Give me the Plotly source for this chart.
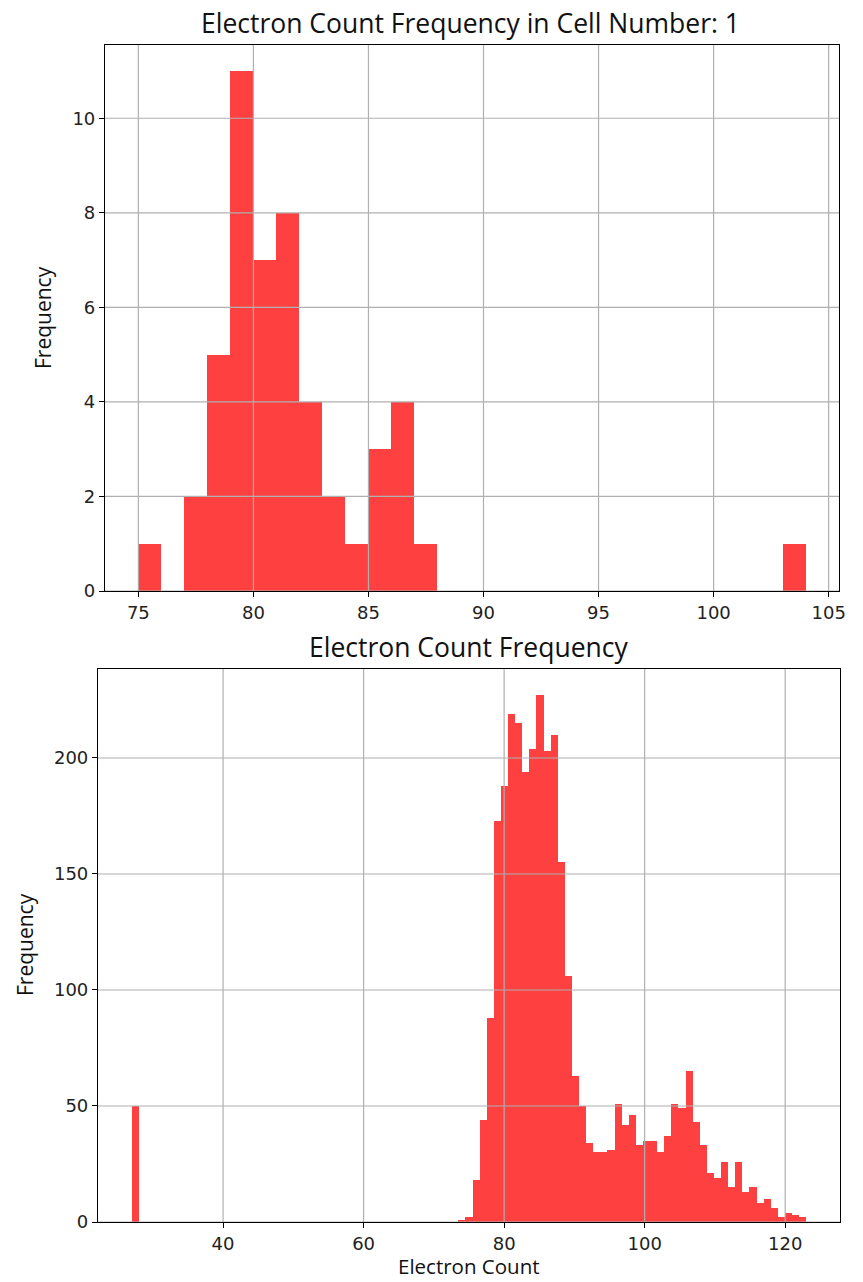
import plotly.graph_objects as go

# ---------------- data ----------------
# Top histogram: unit-width bins from 75 to 104
top_bin_start = 75
top_bin_width = 1
top_counts = [1, 0, 2, 5, 11, 7, 8, 4, 2, 1, 3, 4, 1,
              0, 0, 0, 0, 0, 0, 0, 0, 0, 0, 0, 0, 0, 0, 0, 1]

# Bottom histogram: 95 equal bins spanning 27..123
bot_range_min = 27
bot_range_max = 123
bot_counts = ([50] + [0] * 45 +
              [1, 2, 18, 44, 88, 173, 188, 219, 215, 194, 204, 227, 203, 210,
               155, 106, 63, 50, 34, 30, 30, 31, 51, 42, 46, 33, 35, 35, 30,
               37, 51, 49, 65, 43, 33, 21, 19, 26, 15, 26, 13, 15, 8, 10, 6,
               2, 4, 3, 2])

top_xticks = [75, 80, 85, 90, 95, 100, 105]
top_yticks = [0, 2, 4, 6, 8, 10]
bot_xticks = [40, 60, 80, 100, 120]
bot_yticks = [0, 50, 100, 150, 200]

top_title = "Electron Count Frequency in Cell Number: 1"
bot_title = "Electron Count Frequency"
y_label = "Frequency"
x_label = "Electron Count"

# ---------------- derived bins ----------------
top_centers = [top_bin_start + top_bin_width * (i + 0.5) for i in range(len(top_counts))]
bot_w = (bot_range_max - bot_range_min) / len(bot_counts)
bot_centers = [bot_range_min + bot_w * (i + 0.5) for i in range(len(bot_counts))]

W, H = 863, 1282
BAR = "rgba(255,0,0,0.75)"
GRID = "#b0b0b0"
TICKFONT = dict(family="DejaVu Sans", size=18, color="#222")
LABELFONT = "Open Sans"

def px(x):
    return x / W

def py(y):
    return 1 - y / H

fig = go.Figure()
fig.add_trace(go.Bar(x=top_centers, y=top_counts, width=top_bin_width,
                     marker=dict(color=BAR, line=dict(width=0)),
                     xaxis="x", yaxis="y", showlegend=False, hoverinfo="x+y"))
fig.add_trace(go.Bar(x=bot_centers, y=bot_counts, width=bot_w,
                     marker=dict(color=BAR, line=dict(width=0)),
                     xaxis="x2", yaxis="y2", showlegend=False, hoverinfo="x+y"))

tspan = len(top_counts) * top_bin_width
top_xr = [top_bin_start - 0.05 * tspan, top_bin_start + tspan + 0.05 * tspan]
top_yr = [0, max(top_counts) * 1.05]
bspan = bot_range_max - bot_range_min
bot_xr = [bot_range_min - 0.05 * bspan, bot_range_max + 0.05 * bspan]
bot_yr = [0, max(bot_counts) * 1.05]

axis_common = dict(showgrid=False, zeroline=False, showline=True, linecolor="black",
                   linewidth=1.2, mirror=True, ticks="outside", ticklen=5,
                   tickcolor="black", tickwidth=1.2, tickfont=TICKFONT,
                   automargin=False)

fig.update_layout(
    template="none",
    width=W, height=H,
    margin=dict(l=0, r=0, t=0, b=0, pad=0),
    paper_bgcolor="white", plot_bgcolor="white",
    bargap=0,
    xaxis=dict(domain=[px(105), px(839)], range=top_xr, tickmode="array",
               tickvals=top_xticks, anchor="y", **axis_common),
    yaxis=dict(domain=[py(591), py(45)], range=top_yr, tickmode="array",
               tickvals=top_yticks, anchor="x", **axis_common),
    xaxis2=dict(domain=[px(98), px(840)], range=bot_xr, tickmode="array",
                tickvals=bot_xticks, anchor="y2", **axis_common),
    yaxis2=dict(domain=[py(1222), py(669)], range=bot_yr, tickmode="array",
                tickvals=bot_yticks, anchor="x2", **axis_common),
)

# grid lines drawn above bars (as in matplotlib default)
shapes = []
for v in top_xticks:
    shapes.append(dict(type="line", xref="x", yref="y domain", x0=v, x1=v, y0=0, y1=1,
                       line=dict(color=GRID, width=1.2), layer="above"))
for v in top_yticks:
    shapes.append(dict(type="line", xref="x domain", yref="y", x0=0, x1=1, y0=v, y1=v,
                       line=dict(color=GRID, width=1.2), layer="above"))
for v in bot_xticks:
    shapes.append(dict(type="line", xref="x2", yref="y2 domain", x0=v, x1=v, y0=0, y1=1,
                       line=dict(color=GRID, width=1.2), layer="above"))
for v in bot_yticks:
    shapes.append(dict(type="line", xref="x2 domain", yref="y2", x0=0, x1=1, y0=v, y1=v,
                       line=dict(color=GRID, width=1.2), layer="above"))
fig.update_layout(shapes=shapes)

ann = [
    dict(text=top_title, x=px(470), y=py(23), font=dict(family=LABELFONT, size=26.5, color="#111")),
    dict(text=bot_title, x=px(468), y=py(647), font=dict(family=LABELFONT, size=26.5, color="#111")),
    dict(text=y_label, x=px(43), y=py(318), textangle=-90, font=dict(family=LABELFONT, size=21, color="#111")),
    dict(text=y_label, x=px(25), y=py(945), textangle=-90, font=dict(family=LABELFONT, size=21, color="#111")),
    dict(text=x_label, x=px(469), y=py(1266), font=dict(family=LABELFONT, size=20.5, color="#111")),
]
for a in ann:
    a.update(xref="paper", yref="paper", showarrow=False, xanchor="center", yanchor="middle")
fig.update_layout(annotations=ann)

fig.write_html("out.html",
               config={"displayModeBar": False, "responsive": False},
               post_script="document.body.style.margin='0';document.body.style.overflow='hidden';")
